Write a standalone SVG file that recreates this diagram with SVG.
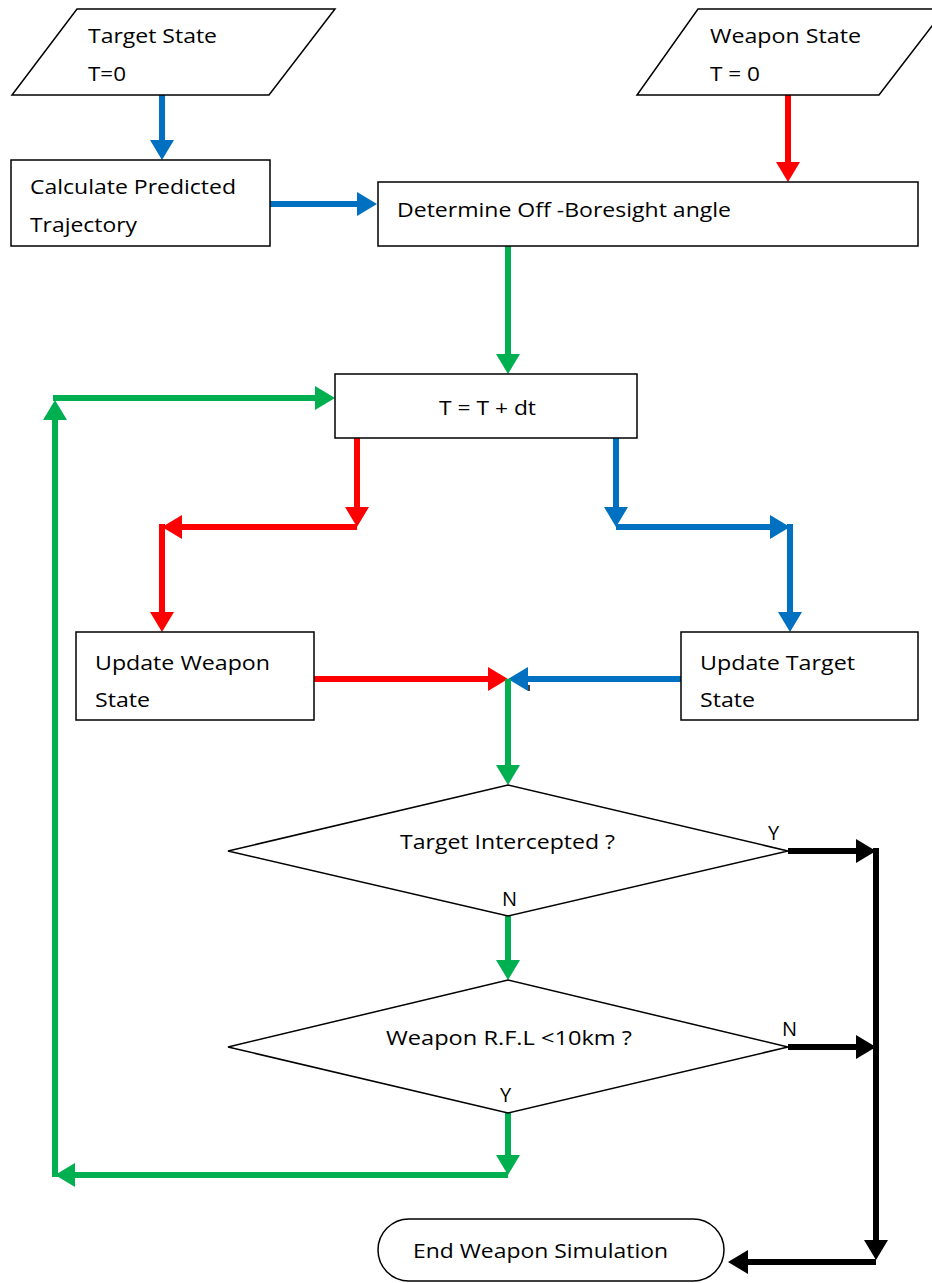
<svg xmlns="http://www.w3.org/2000/svg" width="932" height="1283" viewBox="0 0 932 1283">
<style>
.n{fill:#fff;stroke:#000;stroke-width:1.5}
.t{font-family:"Open Sans","Liberation Sans",sans-serif;font-size:20px;fill:#000}
.c{fill:none;stroke-width:6}
.b{stroke:#0070C0}.r{stroke:#FF0000}.g{stroke:#00B050}.k{stroke:#000}
</style>
<defs>
<marker id="hb" markerUnits="userSpaceOnUse" markerWidth="22" markerHeight="24" refX="2" refY="12" orient="auto"><path d="M0,0 L20,12 L0,24 z" fill="#0070C0"/></marker>
<marker id="hr" markerUnits="userSpaceOnUse" markerWidth="22" markerHeight="24" refX="2" refY="12" orient="auto"><path d="M0,0 L20,12 L0,24 z" fill="#FF0000"/></marker>
<marker id="hg" markerUnits="userSpaceOnUse" markerWidth="22" markerHeight="24" refX="2" refY="12" orient="auto"><path d="M0,0 L20,12 L0,24 z" fill="#00B050"/></marker>
<marker id="hk" markerUnits="userSpaceOnUse" markerWidth="22" markerHeight="24" refX="2" refY="12" orient="auto"><path d="M0,0 L20,12 L0,24 z" fill="#000"/></marker>
</defs>
<rect width="932" height="1283" fill="#fff"/>
<g id="connectors">
<line class="c b" x1="162" y1="95" x2="162" y2="142" marker-end="url(#hb)"/>
<line class="c b" x1="270" y1="204" x2="359" y2="204" marker-end="url(#hb)"/>
<line class="c r" x1="788" y1="95" x2="788" y2="164" marker-end="url(#hr)"/>
<line class="c g" x1="508" y1="246" x2="508" y2="356" marker-end="url(#hg)"/>
<line class="c r" x1="357" y1="438" x2="357" y2="509" marker-end="url(#hr)"/>
<line class="c r" x1="357" y1="527" x2="180" y2="527" marker-end="url(#hr)"/>
<line class="c r" x1="162" y1="524" x2="162" y2="614" marker-end="url(#hr)"/>
<line class="c b" x1="616" y1="438" x2="616" y2="509" marker-end="url(#hb)"/>
<line class="c b" x1="616" y1="527" x2="772" y2="527" marker-end="url(#hb)"/>
<line class="c b" x1="790" y1="524" x2="790" y2="614" marker-end="url(#hb)"/>
<line class="c r" x1="314" y1="679" x2="490" y2="679" marker-end="url(#hr)"/>
<line class="c b" x1="681" y1="679" x2="526" y2="679" marker-end="url(#hb)"/>
<line x1="529" y1="685" x2="529" y2="691" stroke="#000" stroke-width="1.5"/>
<line class="c g" x1="508" y1="679" x2="508" y2="767" marker-end="url(#hg)"/>
<line class="c g" x1="508" y1="916" x2="508" y2="962" marker-end="url(#hg)"/>
<line class="c g" x1="508" y1="1113" x2="508" y2="1157" marker-end="url(#hg)"/>
<line class="c g" x1="508" y1="1175" x2="73" y2="1175" marker-end="url(#hg)"/>
<line class="c g" stroke-width="4" x1="55" y1="1177" x2="55" y2="418" marker-end="url(#hg)"/>
<line class="c g" x1="53" y1="398" x2="317" y2="398" marker-end="url(#hg)"/>
<line class="c k" stroke-width="7" x1="788" y1="851" x2="858" y2="851" marker-end="url(#hk)"/>
<line class="c k" stroke-width="7" x1="788" y1="1047" x2="858" y2="1047" marker-end="url(#hk)"/>
<line class="c k" x1="876" y1="848" x2="876" y2="1242" marker-end="url(#hk)"/>
<line class="c k" stroke-width="7" x1="876" y1="1262" x2="746" y2="1262" marker-end="url(#hk)"/>
</g>
<g id="target-state">
<polygon class="n" points="77,9 335,9 269,95 12,95"/>
<text class="t" x="88" y="43" textLength="129" lengthAdjust="spacingAndGlyphs">Target State</text>
<text class="t" x="88" y="81" textLength="38" lengthAdjust="spacingAndGlyphs">T=0</text>
</g>
<g id="weapon-state">
<polygon class="n" points="698,9 945,9 879,95 637,95"/>
<text class="t" x="710" y="43" textLength="151" lengthAdjust="spacingAndGlyphs">Weapon State</text>
<text class="t" x="710" y="81" textLength="50" lengthAdjust="spacingAndGlyphs">T = 0</text>
</g>
<g id="calc-trajectory">
<rect class="n" x="11" y="160" width="259" height="86"/>
<text class="t" x="30" y="194" textLength="206" lengthAdjust="spacingAndGlyphs">Calculate Predicted</text>
<text class="t" x="30" y="232" textLength="107" lengthAdjust="spacingAndGlyphs">Trajectory</text>
</g>
<g id="off-boresight">
<rect class="n" x="378" y="182" width="540" height="64"/>
<text class="t" x="397" y="217" textLength="334" lengthAdjust="spacingAndGlyphs">Determine Off -Boresight angle</text>
</g>
<g id="time-step">
<rect class="n" x="335" y="374" width="302" height="64"/>
<text class="t" x="439" y="415" textLength="97" lengthAdjust="spacingAndGlyphs">T = T + dt</text>
</g>
<g id="update-weapon">
<rect class="n" x="76" y="632" width="238" height="88"/>
<text class="t" x="95" y="670" textLength="175" lengthAdjust="spacingAndGlyphs">Update Weapon</text>
<text class="t" x="95" y="707" textLength="55" lengthAdjust="spacingAndGlyphs">State</text>
</g>
<g id="update-target">
<rect class="n" x="681" y="632" width="237" height="88"/>
<text class="t" x="700" y="670" textLength="155" lengthAdjust="spacingAndGlyphs">Update Target</text>
<text class="t" x="700" y="707" textLength="55" lengthAdjust="spacingAndGlyphs">State</text>
</g>
<g id="intercepted">
<polygon class="n" points="228,851 508,785 788,851 508,916"/>
<text class="t" x="400" y="849" textLength="215" lengthAdjust="spacingAndGlyphs">Target Intercepted ?</text>
<text class="t" x="768" y="840">Y</text>
<text class="t" x="502" y="906">N</text>
</g>
<g id="rfl-check">
<polygon class="n" points="228,1047 508,980 788,1047 508,1113"/>
<text class="t" x="386" y="1045" textLength="246" lengthAdjust="spacingAndGlyphs">Weapon R.F.L &lt;10km ?</text>
<text class="t" x="782" y="1036">N</text>
<text class="t" x="500" y="1102">Y</text>
</g>
<g id="end-sim">
<rect class="n" x="378" y="1219" width="346" height="62" rx="31" ry="31"/>
<text class="t" x="413" y="1258" textLength="255" lengthAdjust="spacingAndGlyphs">End Weapon Simulation</text>
</g>
</svg>
